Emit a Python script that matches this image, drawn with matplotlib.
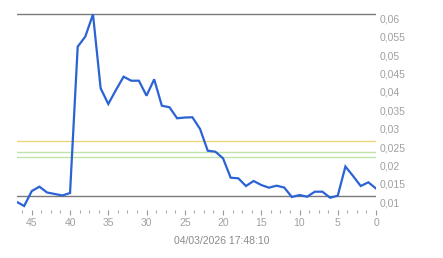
import numpy as np
import matplotlib
matplotlib.use('Agg')
import matplotlib.pyplot as plt
from matplotlib.ticker import MultipleLocator, FuncFormatter

# data (x counts down to 0)
x_idx = list(range(47, -1, -1))
values = [0.01016, 0.00899, 0.01307, 0.01424, 0.01266, 0.01226, 0.01185, 0.01253,
          0.05228, 0.05505, 0.06109, 0.04098, 0.03671, 0.04052, 0.04413, 0.04304,
          0.04304, 0.03897, 0.04342, 0.03625, 0.03582, 0.03283, 0.03304, 0.03310,
          0.02992, 0.02402, 0.02375, 0.02196, 0.01668, 0.01652, 0.01443, 0.01579,
          0.01470, 0.01397, 0.01451, 0.01402, 0.01144, 0.01198, 0.01152, 0.01288,
          0.01288, 0.01125, 0.01179, 0.01973, 0.01715, 0.01443, 0.01543, 0.01375]

gray_levels = [0.06109, 0.01163]
yellow_levels = [0.02666]
green_levels = [0.02359, 0.02228]
y_ticks = [0.01, 0.015, 0.02, 0.025, 0.03, 0.035, 0.04, 0.045, 0.05, 0.055, 0.06]
timestamp = '04/03/2026 17:48:10'

plt.rcParams['font.family'] = ['Liberation Sans', 'DejaVu Sans']

fig = plt.figure(figsize=(4.43, 2.58), dpi=100)
ax = fig.add_axes([16.5 / 443, 48 / 258, 359.5 / 443, 202 / 258])

for lv in yellow_levels:
    ax.axhline(lv, color='#f0d47a', linewidth=1.0, zorder=1)
for lv in green_levels:
    ax.axhline(lv, color='#bfe3a8', linewidth=1.0, zorder=1)
for lv in gray_levels:
    ax.axhline(lv, color='#7a7a7a', linewidth=1.0, zorder=2)

ax.plot(x_idx, values, color='#2b63d4', linewidth=1.6, zorder=3,
        solid_joinstyle='miter')

ax.set_xlim(47, 0)
ax.set_ylim(0.007908, 0.06280)

for s in ax.spines.values():
    s.set_visible(False)

ax.xaxis.set_major_locator(MultipleLocator(5))
ax.xaxis.set_minor_locator(MultipleLocator(1.25))
ax.tick_params(axis='x', which='major', length=3.5, width=0.8, color='#999999',
               labelcolor='#a0a0a0', labelsize=7.5, pad=2.5)
ax.tick_params(axis='x', which='minor', length=2, width=0.8, color='#aaaaaa')

ax.yaxis.tick_right()
ax.set_yticks(y_ticks)
ax.yaxis.set_major_formatter(FuncFormatter(lambda v, p: ('%g' % round(v, 4)).replace('.', ',')))
ax.tick_params(axis='y', length=0, labelcolor='#a0a0a0', labelsize=7.5, pad=2.5)

fig.text(0.5, 1 - 241 / 258, timestamp, ha='center', va='center',
         color='#8a8a8a', fontsize=7.5)

fig.savefig('out.png', dpi=100)
